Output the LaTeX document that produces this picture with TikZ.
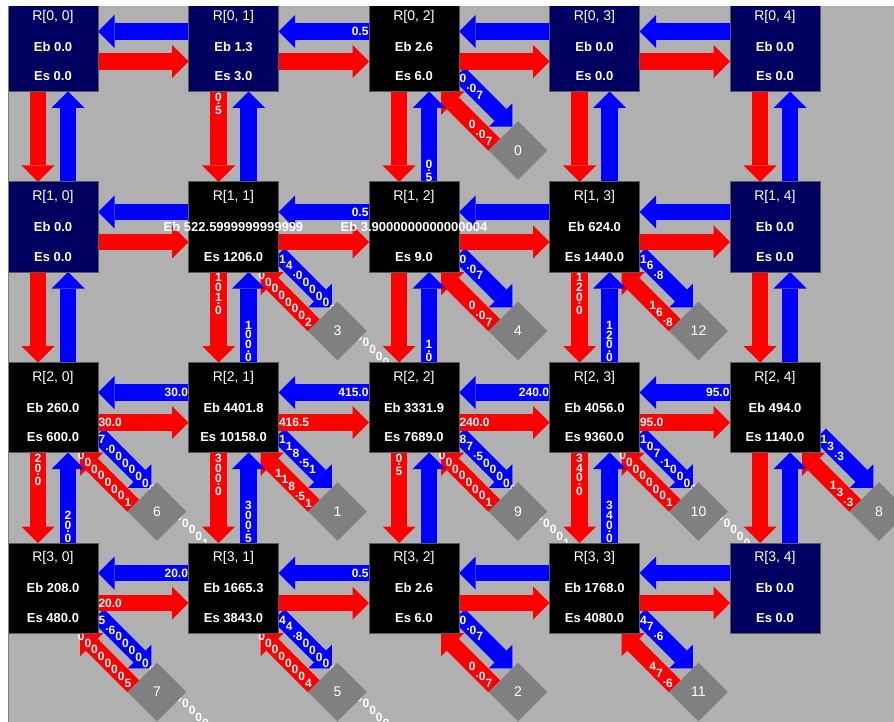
\documentclass[tikz,border=0pt]{standalone}
\usepackage{fontspec}
\setmainfont{Liberation Sans}
\usetikzlibrary{arrows.meta,shapes.geometric}
\definecolor{panel}{HTML}{B0B0B0}
\definecolor{navybox}{HTML}{000060}
\definecolor{flowred}{HTML}{FF0000}
\definecolor{flowblue}{HTML}{0000FF}
\definecolor{sinkgray}{HTML}{808080}
\definecolor{edgegray}{HTML}{5A5A5A}
\pgfdeclarelayer{panellayer}
\pgfdeclarelayer{arrowlayer}
\pgfdeclarelayer{labellayer}
\pgfdeclarelayer{textlayer}
\pgfsetlayers{panellayer,arrowlayer,labellayer,main,textlayer}
% characters stepped along a 45 degree line / stacked downwards
\def\diagstep#1{\ifx\relax#1\else\setbox0=\hbox{#1}\dimen2=\wd0 \lower\dimen0\box0 \advance\dimen0 by\dimen2 \expandafter\diagstep\fi}
\newcommand\diagfwd[1]{{\dimen0=0pt \expandafter\diagstep#1\relax}}
\newcommand\diagback[1]{{\setbox2=\hbox{#1}\dimen0=-\wd2 \expandafter\diagstep#1\relax}}
\def\vstep#1{\ifx\relax#1\else\hbox to 0pt{\hss#1\hss}\kern1.4pt \expandafter\vstep\fi}
\newcommand\vstack[1]{\vbox{\offinterlineskip\expandafter\vstep#1\relax\unkern}}
\begin{document}
\begin{tikzpicture}[x=1pt,y=-1pt,
  cellbox/.style={draw=edgegray,line width=1pt,minimum width=90pt,minimum height=90pt,inner sep=0pt,outer sep=0pt},
  sink/.style={diamond,aspect=1,fill=sinkgray,minimum width=59pt,minimum height=59pt,inner sep=0pt,text=white,font=\fontsize{14}{16}\selectfont},
  flow/.style={line width=16.7pt,-{Triangle[width=33pt,length=16.5pt,line width=0pt]}},
  flowlab/.style={inner sep=0pt,outer sep=0pt,text=white,font=\fontsize{12}{14}\selectfont\bfseries},
  rlab/.style={text=white,inner sep=0pt,font=\fontsize{14}{16}\selectfont},
  elab/.style={text=white,inner sep=0pt,font=\fontsize{13}{15}\selectfont\bfseries}]
\useasboundingbox (0,0) rectangle (894,722);
\begin{pgfonlayer}{panellayer}
\fill[panel] (0,0) rectangle (894,722);
\end{pgfonlayer}
% regions
\foreach \r/\c/\fillc/\eb/\es in {0/0/navybox/0.0/0.0, 0/1/navybox/1.3/3.0, 0/2/black/2.6/6.0, 0/3/navybox/0.0/0.0, 0/4/navybox/0.0/0.0,
  1/0/navybox/0.0/0.0, 1/1/black/522.5999999999999/1206.0, 1/2/black/3.9000000000000004/9.0, 1/3/black/624.0/1440.0, 1/4/navybox/0.0/0.0,
  2/0/black/260.0/600.0, 2/1/black/4401.8/10158.0, 2/2/black/3331.9/7689.0, 2/3/black/4056.0/9360.0, 2/4/black/494.0/1140.0,
  3/0/black/208.0/480.0, 3/1/black/1665.3/3843.0, 3/2/black/2.6/6.0, 3/3/black/1768.0/4080.0, 3/4/navybox/0.0/0.0}{
  \node[cellbox,fill=\fillc] (r\r\c) at ({53+180.5*\c},{46.5+180.5*\r}) {};
  \begin{pgfonlayer}{textlayer}
  \node[rlab] (n\r\c) at ([yshift=30pt]r\r\c.center) {R[\r, \c]};
  \node[elab] (e\r\c) at (r\r\c.center) {Eb \eb};
  \node[elab] (s\r\c) at ([yshift=-30pt]r\r\c.center) {Es \es};
  \end{pgfonlayer}
}
% sinks with their two-way flows
\foreach \r/\c/\d/\txt in {0/2/0/0.07, 1/1/3/14.000000000000002, 1/2/4/0.07, 1/3/12/16.8, 2/0/6/7.000000000000001,
  2/1/1/118.51, 2/2/9/87.50000000000001, 2/3/10/107.10000000000001, 2/4/8/13.3, 3/0/7/5.6000000000000005,
  3/1/5/44.800000000000004, 3/2/2/0.07, 3/3/11/47.6}{
  \node[sink] (d\d) at ([shift={(59pt,-59pt)}]r\r\c.south east) {\d};
  \begin{pgfonlayer}{arrowlayer}
  \draw[flow,flowblue] ([yshift=18pt]r\r\c.south east) -- ([shift={(-5.75pt,23.75pt)}]d\d.center);
  \draw[flow,flowred] ([shift={(-23.75pt,5.75pt)}]d\d.center) -- ([xshift=-18pt]r\r\c.south east);
  \end{pgfonlayer}
  \begin{pgfonlayer}{labellayer}
  \node[flowlab,anchor=base west] (db\d) at ([shift={(0.7pt,8.7pt)}]r\r\c.south east) {\diagfwd{\txt}};
  \node[flowlab,anchor=base east] (dr\d) at ([shift={(-25.75pt,-1.75pt)}]d\d.center) {\diagback{\txt}};
  \end{pgfonlayer}
}
\begin{pgfonlayer}{arrowlayer}
\foreach \r in {0,...,3}{
  \foreach \c [evaluate=\c as \cn using int(\c+1)] in {0,...,3}{
    \draw[flow,flowblue] ([yshift=15pt]r\r\cn.west) -- ([yshift=15pt]r\r\c.east);
    \draw[flow,flowred] ([yshift=-15pt]r\r\c.east) -- ([yshift=-15pt]r\r\cn.west);
  }
}
\foreach \r [evaluate=\r as \rn using int(\r+1)] in {0,...,2}{
  \foreach \c in {0,...,4}{
    \draw[flow,flowred] ([xshift=-15pt]r\r\c.south) -- ([xshift=-15pt]r\rn\c.north);
    \draw[flow,flowblue] ([xshift=15pt]r\rn\c.north) -- ([xshift=15pt]r\r\c.south);
  }
}
\end{pgfonlayer}
% flow values
\begin{pgfonlayer}{labellayer}
\foreach \r/\c/\txt [evaluate=\c as \cn using int(\c+1)] in {0/1/0.5, 1/1/0.5, 2/0/30.0, 2/1/415.0, 2/2/240.0, 2/3/95.0, 3/0/20.0, 3/1/0.5}
  \node[flowlab,anchor=east] (hb\r\c) at ([xshift=-0.5pt,yshift=15pt]r\r\cn.west) {\txt};
\foreach \r/\c/\txt in {2/0/30.0, 2/1/416.5, 2/2/240.0, 2/3/95.0, 3/0/20.0}
  \node[flowlab,anchor=west] (hr\r\c) at ([xshift=0.5pt,yshift=-15pt]r\r\c.east) {\txt};
\foreach \r/\c/\txt in {0/1/0.5, 1/1/101.0, 1/3/120.0, 2/0/20.0, 2/1/300.0, 2/2/0.5, 2/3/340.0}
  \node[flowlab,anchor=north] (vr\r\c) at ([xshift=-15pt,yshift=-1.5pt]r\r\c.south) {\vstack{\txt}};
\foreach \r/\c/\txt in {1/2/0.5, 2/1/100.0, 2/2/1.0, 2/3/120.0, 3/0/20.0, 3/1/300.5, 3/3/340.0}
  \node[flowlab,anchor=south] (vb\r\c) at ([xshift=15pt,yshift=0.5pt]r\r\c.north) {\vstack{\txt}};
\end{pgfonlayer}
\begin{pgfonlayer}{textlayer}
\fill[white] (0,0) rectangle (894,6);
\fill[white] (0,0) rectangle (8,722);
\draw[sinkgray,line width=1pt] (8.5,6) -- (8.5,722);
\end{pgfonlayer}
\end{tikzpicture}
\end{document}
